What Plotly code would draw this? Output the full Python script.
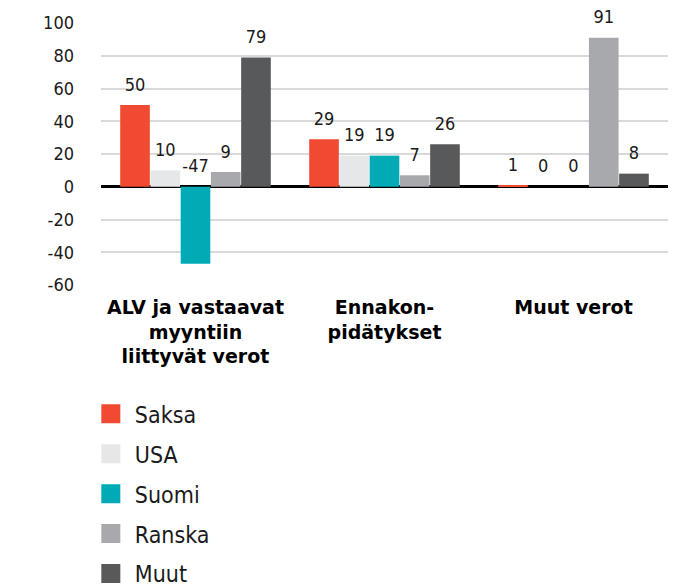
import plotly.graph_objects as go

categories = ["ALV ja vastaavat<br>myyntiin<br>liittyvät verot", "Ennakon-<br>pidätykset", "Muut verot"]
series_names = ["Saksa", "USA", "Suomi", "Ranska", "Muut"]
saksa = [50, 29, 1]
usa = [10, 19, 0]
suomi = [-47, 19, 0]
ranska = [9, 7, 91]
muut = [79, 26, 8]
series_values = [saksa, usa, suomi, ranska, muut]
colors = ["#F04A32", "#E6E7E8", "#00ABB6", "#A7A9AC", "#58595B"]
y_ticks = [-60, -40, -20, 0, 20, 40, 60, 80, 100]
y_tick_labels = ["-60", "-40", "-20", "0", "20", "40", "60", "80", "100"]

FONT = "DejaVu Sans Condensed, DejaVu Sans, sans-serif"
BOLD_FONT = "DejaVu Sans, sans-serif"
LABEL_PAD = 4.5  # visual spacing (axis units) between bar end and its value label

fig = go.Figure()
for name, vals, col in zip(series_names, series_values, colors):
    fig.add_trace(go.Bar(
        x=categories, y=vals, name=name, marker=dict(color=col, line=dict(width=0)),
        showlegend=False, hoverinfo="skip",
    ))
# legend entries (square markers)
for name, col in zip(series_names, colors):
    fig.add_trace(go.Scatter(
        x=[None], y=[None], mode="markers", name=name,
        marker=dict(symbol="square", size=16, color=col, line=dict(color=col, width=3)),
        hoverinfo="skip", legendgroup=name,
    ))
# label traces on an overlaid axis: labels sit above the bar or above zero
for name, vals in zip(series_names, series_values):
    fig.add_trace(go.Bar(
        x=categories, base=[max(v, 0) for v in vals], y=[LABEL_PAD] * len(vals),
        text=[str(v) for v in vals],
        textposition="outside", cliponaxis=False,
        textfont=dict(family=FONT, size=18, color="#1a1a1a"),
        marker=dict(color="rgba(0,0,0,0)", line=dict(width=0)), showlegend=False,
        xaxis="x2", hoverinfo="skip",
    ))

fig.update_layout(
    width=661, height=580,
    margin=dict(l=93, r=1, t=15, b=303, autoexpand=False),
    paper_bgcolor="white", plot_bgcolor="white",
    barmode="group", bargap=0.2, bargroupgap=0.02,
    font=dict(family=FONT, color="#1a1a1a"),
    showlegend=True,
    legend=dict(
        orientation="v", x=-0.025, xanchor="left", y=-0.41, yanchor="top",
        font=dict(family=FONT, size=23, color="#1a1a1a"),
        tracegroupgap=7, itemclick=False, itemwidth=38,
    ),
    xaxis=dict(
        type="category", showgrid=False, showline=False, ticks="",
        tickfont=dict(family=BOLD_FONT, size=19, color="#000000", weight="bold"),
        ticklabelstandoff=9,
    ),
    xaxis2=dict(
        type="category", overlaying="x", matches="x", visible=False,
    ),
    yaxis=dict(
        range=[-60, 100], tickvals=y_ticks, ticktext=y_tick_labels,
        showgrid=True, gridcolor="#D9D9D9",
        gridwidth=1.5, zeroline=True, zerolinecolor="#000000", zerolinewidth=2.5,
        tickfont=dict(family=FONT, size=18, color="#1a1a1a"),
        ticks="", ticklabelstandoff=26, showline=False,
    ),
)

fig.write_html("out.html")
